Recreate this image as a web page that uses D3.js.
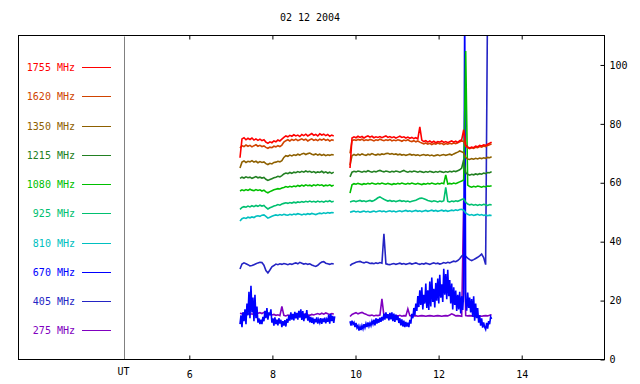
<!DOCTYPE html>
<html><head><meta charset="utf-8">
<script src="https://cdn.jsdelivr.net/npm/d3@7"></script>
<style>
body{margin:0;background:#fff}
svg text{font-family:"DejaVu Sans Mono","Liberation Mono",monospace;font-size:10px}
</style>
</head><body>
<svg id="chart" width="640" height="384"></svg>
<script>
// ---------------- data ----------------
const title = "02 12 2004";
const labels = ["1755 MHz","1620 MHz","1350 MHz","1215 MHz","1080 MHz","925 MHz","810 MHz","670 MHz","405 MHz","275 MHz"];
const colors = ["#ff0000","#d04400","#8e6000","#228022","#00c000","#00c070","#00c0c0","#0000ff","#2424c4","#8000c0"];
const xTicks = [6, 8, 10, 12, 14];
const yTicks = [0, 20, 40, 60, 80, 100];
const seg1Start = 7.22, seg2Start = 9.868;          // UT hours
const sampleStep = 0.048, fineStep = 0.024;          // hours between samples

const f1755a = [68.5,74.9,75.3,74.6,75.1,74.7,75.2,74.5,74.9,74.4,74.8,74.3,74.6,73.8,73.4,73.9,73.6,74.2,73.9,74.5,74.2,74.8,75.4,75.9,75.6,76.1,75.8,76.3,75.9,76.2,75.7,76.4,76.0,76.5,75.9,76.3,76.7,76.1,76.4,75.9,76.6,76.2,76.5,76.0,76.4,75.8,76.2,75.9];
const f1755b = [65.0,75.2,75.6,75.3,75.8,75.4,75.7,75.2,75.6,75.9,75.5,75.8,75.3,75.6,75.4,75.7,75.3,75.6,75.9,75.4,75.7,75.3,75.6,75.2,75.5,75.8,75.4,75.6,75.2,75.5,75.1,75.4,75.0,75.3,74.9,79.0,74.5,74.0,74.3,73.8,74.2,73.7,74.1,73.6,74.0,73.8,74.2,73.7,74.0,73.6,73.9,74.2,73.8,74.1,73.7,74.3,74.6,78.0,72.8,72.2,71.8,72.1,71.9,72.4,72.2,72.7,72.5,72.9,72.7,73.1,73.4,73.8];
const f1620a = [71.8,72.6,72.3,72.8,72.4,72.7,72.2,72.6,72.9,72.4,72.7,72.3,72.5,72.0,71.7,72.1,71.9,72.4,72.2,72.6,72.3,72.8,73.8,74.3,74.6,74.2,74.7,74.4,74.8,74.3,74.6,74.9,74.5,74.8,74.2,74.6,74.9,74.4,74.7,74.3,74.8,74.5,74.9,74.4,74.7,74.2,74.6,74.4];
const f1620b = [70.0,74.3,74.6,74.4,74.7,74.5,74.8,74.3,74.6,74.4,74.7,74.5,74.2,74.6,74.4,74.8,74.5,74.3,74.6,74.4,74.7,74.2,74.5,74.3,74.6,74.4,74.1,74.5,74.3,74.6,74.2,74.0,74.3,73.9,74.2,73.8,73.5,73.2,73.5,73.1,73.4,73.0,73.3,73.1,73.5,73.2,73.4,73.0,73.3,73.1,73.4,73.2,73.5,73.3,73.6,73.9,74.2,74.0,72.5,71.9,71.6,71.9,71.7,72.1,71.9,72.3,72.1,72.5,72.3,72.7,72.9,73.2];
const f1350a = [65.0,67.0,67.4,66.9,67.3,67.1,67.5,67.0,67.3,66.8,67.2,66.9,67.1,66.5,66.2,66.6,66.4,66.9,67.0,67.3,67.1,67.5,68.6,69.2,69.0,69.4,69.1,69.5,69.3,69.7,69.4,69.8,70.0,69.6,69.9,70.1,69.7,69.5,69.8,69.4,69.7,69.3,69.6,69.2,69.5,69.3,69.6,69.4];
const f1350b = [66.0,69.2,69.6,69.3,69.7,69.4,69.8,69.5,69.3,69.7,69.5,69.9,69.6,69.4,69.7,69.5,69.8,69.6,69.9,70.0,69.7,69.9,69.6,69.8,69.5,69.7,69.4,69.6,69.3,69.5,69.7,69.4,69.6,69.3,69.5,69.2,69.4,69.6,69.3,69.5,69.2,69.4,69.1,69.3,69.5,69.2,69.4,69.6,69.3,69.5,69.7,69.4,69.8,70.1,70.4,70.8,70.5,70.2,68.6,68.1,67.9,68.2,68.0,68.3,68.1,68.4,68.2,68.5,68.3,68.6,68.5,68.8];
const f1215a = [61.5,61.9,61.6,62.0,61.7,61.9,61.5,61.8,62.1,61.7,61.9,61.6,61.8,61.2,60.8,61.1,61.4,61.7,61.9,62.2,62.0,62.4,63.0,63.3,63.1,63.5,63.2,63.6,63.4,63.8,63.5,63.9,63.6,64.0,63.7,63.9,63.5,63.8,63.4,63.7,63.5,63.9,63.4,63.7,63.3,63.6,63.2,63.6];
const f1215b = [62.0,63.6,63.9,63.7,64.0,63.8,63.6,63.9,63.7,64.1,63.8,63.6,63.9,63.7,64.0,64.2,63.9,63.7,64.0,63.8,63.6,63.9,63.7,64.0,63.8,63.6,63.9,64.2,63.8,63.6,63.9,63.7,64.0,63.8,63.6,63.9,63.7,63.5,63.8,63.6,63.9,63.7,63.5,63.8,63.6,63.9,63.7,63.5,63.8,63.6,63.9,63.7,64.0,63.8,64.1,64.4,65.0,67.8,63.4,62.9,62.6,62.9,62.7,63.0,62.8,63.1,62.9,63.3,63.1,63.5,63.4,63.8];
const f1080a = [57.2,57.6,57.3,57.7,57.4,57.8,57.5,57.3,57.7,57.4,57.6,57.2,57.5,56.9,56.6,57.0,57.3,57.6,57.8,58.0,57.9,58.2,58.4,58.7,58.5,58.8,58.6,58.9,58.7,59.1,58.8,59.2,58.9,59.3,59.0,59.2,58.9,59.3,59.0,59.4,59.1,59.3,58.9,59.2,59.0,59.3,58.9,59.2];
const f1080b = [56.5,59.3,59.7,59.5,59.8,59.6,59.4,59.7,59.5,59.8,59.6,59.9,59.7,59.5,59.8,59.6,59.9,59.7,59.5,59.8,59.6,59.4,59.7,59.5,59.8,59.6,59.9,59.7,59.5,59.8,59.6,59.9,59.7,59.5,59.8,59.6,59.4,59.7,59.5,59.8,59.6,59.9,59.7,59.5,59.8,59.6,59.9,59.7,62.7,59.6,59.8,59.6,59.9,59.7,60.0,60.3,60.6,61.0,104.7,59.2,58.7,58.5,58.8,58.6,58.9,58.7,58.5,58.8,58.6,58.9,58.8,59.0];
const f925a = [51.0,51.6,51.9,51.7,52.1,51.8,52.2,51.9,52.3,52.0,52.4,52.1,52.3,51.6,51.1,51.5,51.8,52.1,52.3,52.6,52.4,52.8,53.0,53.2,53.0,53.3,53.1,53.4,53.2,53.5,53.3,53.6,53.4,53.7,53.5,53.8,53.5,53.7,53.4,53.8,53.5,53.7,53.4,53.8,53.6,53.9,53.5,53.7];
const f925b = [53.5,53.7,53.9,53.6,53.8,54.0,53.7,53.9,53.6,53.8,54.0,53.7,54.0,54.4,54.9,55.2,54.8,54.4,54.1,53.8,54.0,53.7,53.9,53.6,53.8,54.0,53.7,53.9,53.6,53.8,53.5,53.7,53.9,54.1,54.4,54.7,54.8,54.6,54.3,54.0,53.8,53.6,53.9,53.7,53.5,53.8,53.6,53.9,58.4,53.7,53.5,53.8,53.6,53.9,53.7,54.0,54.3,54.6,53.4,52.8,52.5,52.7,52.4,52.6,52.3,52.6,52.4,52.7,52.5,52.3,52.6,52.5];
const f810a = [47.0,47.8,48.1,47.9,48.3,48.1,48.4,48.2,48.6,48.8,48.6,49.0,49.1,48.6,48.0,48.3,48.6,48.9,49.1,48.9,49.2,49.0,49.3,49.1,49.0,49.3,49.1,49.4,49.2,49.5,49.3,49.1,49.4,49.2,49.5,49.3,49.6,49.4,49.2,49.5,49.7,49.5,49.8,49.6,49.9,49.7,49.9,49.8];
const f810b = [50.0,50.2,50.4,50.1,50.3,50.0,50.2,50.4,50.1,50.3,50.0,50.2,50.4,50.1,50.3,50.5,50.2,50.4,50.1,50.3,50.5,50.2,50.4,50.1,50.3,50.5,50.2,50.4,50.6,50.3,50.5,50.2,50.4,50.6,50.3,50.5,50.2,50.4,50.6,50.3,50.5,50.7,50.4,50.6,50.3,50.5,50.7,50.4,50.6,50.3,50.5,50.7,50.5,50.8,50.6,50.9,51.0,50.7,49.8,49.3,49.0,49.2,48.9,49.1,49.3,49.0,49.2,48.9,49.1,48.8,49.0,48.9];
// 670 MHz is sampled twice as often (fineStep)
const f670a = [12,15,11,16,13,17,12,19, 15,23,14,25,16,21,13,22, 14,18,12.5,14,12,13.5,12,14.5, 13,16.5,14,17.5,13.5,16,15,17,
  12.5,14,11.5,14.3,12,13.5,11.6,14, 12.2,13.5,11,13,11.5,13.4,11.2,13.8, 12.5,15,13.2,16,13.5,15.5,13.3,16.2, 14,15.8,13.5,16.5,14.2,17,13.4,16.4,
  13,15.5,14,16.8,13.2,15,12.6,14.5, 12.4,14.2,12,13.8,12.6,14.3,12.2,13.6, 12.5,14,12.1,13.9,12.7,14.2,12.3,13.7, 12.8,15.2,12.2,15.5,13,14.8,12.4,14.6];
const f670b = [13,11.5,13.2,12,12.6,11,12.4,10.8, 11.5,9.8,11.2,10,11.5,10.4,12,10.8, 12.2,11,12.6,11.3,12.4,11.5,13,12, 13.5,11.6,14,12.2,13.8,12.5,14.2,12.8,
  14.5,13.2,15.6,13.5,16,14,15.4,13.3, 15.8,13.6,16,13,15.6,12.8,15.2,13.4, 14.8,12.4,14,11.6,13.6,11.2,13.2,11, 12.8,11.2,12.5,11,13.5,12.2,15.5,14,
  17.5,15,19,16.5,21.5,17.8,23.5,18.5, 24.5,17,22,19,25.8,17.5,23.5,16.8, 26.5,18,27.8,19.5,24,17.7,26,20, 27.5,19,28.8,21,25.5,19.5,30.8,22,
  29,20.5,30.5,21.5,27,19,25.8,17, 24.5,18.5,23.4,16.5,22,17,23,15.6, 21.5,16.8,22.5,120,19.5,16.6,22.7,17.5, 21,16,20.5,14.5,21.5,13.2,19,14,
  17.5,12.5,15,11.5,14,10.8,12.6,11, 10.2,12.4,10.5,13,12,14.5,13.8];
const f405a = [30.7,32.4,32.8,32.5,32.2,31.8,31.9,32.2,32.5,32.8,33.0,32.9,32.0,30.2,29.4,30.4,31.5,31.9,32.4,32.2,32.5,32.3,32.6,32.4,32.2,32.5,32.3,32.6,32.8,32.5,33.0,32.7,32.4,32.6,32.3,32.5,32.1,31.8,31.6,32.0,32.6,33.1,33.2,32.7,32.5,32.3,32.6,32.4];
const f405b = [31.9,32.4,32.7,33.0,33.2,33.3,33.0,32.8,33.1,32.9,32.6,32.7,32.5,32.8,32.6,32.9,32.7,42.7,32.5,32.3,32.2,32.4,32.6,32.3,32.5,32.7,32.4,32.6,32.3,32.5,32.7,32.4,32.6,32.8,32.5,32.3,32.6,32.4,32.7,32.5,32.3,32.6,32.8,32.5,32.7,32.4,32.6,32.9,32.7,33.0,32.8,33.1,33.4,33.2,33.6,34.2,35.1,35.6,35.0,34.4,33.9,33.6,33.9,34.3,34.7,35.2,35.8,34.6,32.2,125];
const f275a = [15.7,15.5,15.8,15.4,15.6,15.3,15.5,15.2,15.4,15.7,15.9,15.6,16.0,15.5,15.2,15.4,15.1,15.3,15.0,15.2,14.9,18.0,15.0,14.8,15.1,14.9,15.2,15.0,15.3,15.1,15.4,15.6,15.3,15.5,15.2,15.0,15.3,15.1,15.4,15.6,15.3,15.7,15.4,15.8,15.5,15.3,15.6,15.4];
const f275b = [14.6,15.3,15.6,15.9,15.5,15.8,16.0,15.6,15.4,15.0,14.9,15.1,14.8,15.0,14.9,15.1,20.6,14.9,14.7,14.9,14.8,15.0,14.7,14.9,14.8,15.0,14.7,14.9,14.8,17.2,14.9,14.7,14.8,14.9,14.7,14.8,14.9,14.8,14.7,14.8,14.9,14.8,14.7,14.8,14.9,14.8,14.7,14.8,14.9,14.8,15.1,15.5,15.2,14.8,14.9,14.8,14.7,54.0,14.9,14.8,14.9,14.8,14.7,14.8,14.9,14.8,14.7,14.8,14.9,14.8,15.0,15.2];

const seriesA = [f1755a,f1620a,f1350a,f1215a,f1080a,f925a,f810a,f670a,f405a,f275a];
const seriesB = [f1755b,f1620b,f1350b,f1215b,f1080b,f925b,f810b,f670b,f405b,f275b];
const steps   = [sampleStep,sampleStep,sampleStep,sampleStep,sampleStep,sampleStep,sampleStep,fineStep,sampleStep,sampleStep];

// ---------------- layout ----------------
const svg = d3.select("#chart");
const L = 18.5, R = 604.5, T = 35.5, B = 359.5;
const x = d3.scaleLinear().domain([6, 14]).range([189.3, 521.7]);
const y = d3.scaleLinear().domain([0, 110]).range([B, T]);

svg.append("defs").append("clipPath").attr("id","plotclip")
  .append("rect").attr("x", L).attr("y", T).attr("width", R - L).attr("height", B - T);

svg.append("text").attr("x", 310).attr("y", 21).attr("text-anchor","middle").attr("fill","#000").text(title);

svg.append("line").attr("x1",124.5).attr("x2",124.5).attr("y1",T+1).attr("y2",B)
  .attr("stroke","#808080").attr("stroke-width",1);

const line = d3.line().x(d => x(d.t)).y(d => y(d.v));
const gData = svg.append("g").attr("clip-path","url(#plotclip)");
for (let k = labels.length - 1; k >= 0; k--) {
  [[seriesA[k], seg1Start],[seriesB[k], seg2Start]].forEach(([vals, t0]) => {
    const pts = vals.map((v, i) => ({t: t0 + i * steps[k], v}));
    gData.append("path").datum(pts).attr("d", line)
      .attr("fill","none").attr("stroke", colors[k]).attr("stroke-width",1.6)
      .attr("stroke-linejoin","miter");
  });
}

svg.append("rect").attr("x",L).attr("y",T).attr("width",R-L).attr("height",B-T)
  .attr("fill","none").attr("stroke","#000").attr("stroke-width",1);

const styleAxis = g => {
  g.select(".domain").remove();
  g.selectAll("line").attr("stroke","#000");
  g.selectAll("text").attr("fill","#000")
   .style("font-family",'"DejaVu Sans Mono","Liberation Mono",monospace').style("font-size","10px");
};
svg.append("g").attr("transform",`translate(0,${B})`)
  .call(d3.axisBottom(x).tickValues(xTicks).tickSize(-4).tickPadding(11).tickFormat(d3.format("d")))
  .call(styleAxis);
svg.append("g").attr("transform",`translate(0,${T})`)
  .call(d3.axisTop(x).tickValues(xTicks).tickSize(-4).tickFormat(""))
  .call(styleAxis);
svg.append("g").attr("transform",`translate(${R},0)`)
  .call(d3.axisRight(y).tickValues(yTicks).tickSize(-4).tickPadding(5).tickFormat(d3.format("d")))
  .call(styleAxis);

svg.append("text").attr("x",123.5).attr("y",375).attr("text-anchor","middle").attr("fill","#000").text("UT");

labels.forEach((lab, i) => {
  const ly = Math.round(67 + i * 29.25) + 0.5;
  svg.append("text").attr("x",75).attr("y",ly + 3.5).attr("text-anchor","end")
    .attr("fill",colors[i]).text(lab);
  svg.append("line").attr("x1",82).attr("x2",111).attr("y1",ly).attr("y2",ly)
    .attr("stroke",colors[i]).attr("stroke-width",1);
});
</script>
</body></html>
